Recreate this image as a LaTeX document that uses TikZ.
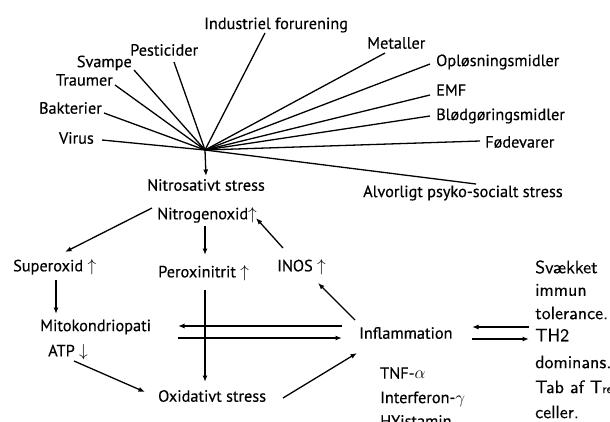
\documentclass[tikz,border=0pt]{standalone}
\usepackage{fontspec}
\setmainfont{PT Sans}[FakeBold=0.4]
\newfontfamily\rfont{lmsans10-regular.otf}[FakeBold=0.3]
\usetikzlibrary{arrows.meta}
\begin{document}
\begin{tikzpicture}[x=1pt,y=-1pt,
  lbl/.style={inner sep=0pt,font=\fontsize{16.3}{18}\selectfont},
  rlbl/.style={inner sep=0pt,anchor=west,font=\rfont\fontsize{18}{20}\selectfont},
  fan/.style={line width=1.3pt},
  arr/.style={line width=1.3pt,-{Latex[length=6.5pt,width=5pt]}}]
\useasboundingbox (0,0) rectangle (610,421);
\clip (0,0) rectangle (610,421);
\coordinate (hub) at (205,150);
% sources
\node[lbl,anchor=east] (virus) at (94,138) {Virus};
\node[lbl,anchor=east] (bakt) at (102,108) {Bakterier};
\node[lbl,anchor=east] (traum) at (113,80) {Traumer};
\node[lbl,anchor=east] (svamp) at (132,63) {Svampe};
\node[lbl,anchor=west] (pest) at (130,50) {Pesticider};
\node[lbl,anchor=west] (indu) at (204,25) {Industriel forurening};
\node[lbl,anchor=west] (metal) at (367,43) {Metaller};
\node[lbl,anchor=west] (oplos) at (436,62) {Opløsningsmidler};
\node[lbl,anchor=west] (emf) at (436,90) {EMF};
\node[lbl,anchor=west] (blod) at (436,116) {Blødgøringsmidler};
\node[lbl,anchor=west] (fode) at (485,142) {Fødevarer};
\node[lbl,anchor=west] (psyk) at (363,193) {Alvorligt psyko-socialt stress};
\coordinate (cvirus) at (102,140);
\coordinate (cbakt) at (104,113);
\coordinate (ctraum) at (115,85);
\coordinate (csvamp) at (134,70);
\coordinate (cpest) at (174,62);
\coordinate (cindu) at (265,33);
\coordinate (cmetal) at (385,53);
\coordinate (coplos) at (430,64);
\coordinate (cemf) at (430,95);
\coordinate (cblod) at (430,116);
\coordinate (cfode) at (480,141);
\coordinate (cpsyk) at (476,184);
\foreach \c in {cvirus,cbakt,ctraum,csvamp,cpest,cindu,cmetal,coplos,cemf,cblod,cfode,cpsyk}
  \draw[fan] (\c) -- (hub);
% lower part
\node[lbl] (nstress) at (206,185) {Nitrosativt stress};
\node[lbl,anchor=west] (nox) at (157,215) {Nitrogenoxid$\uparrow$};
\node[lbl,anchor=west] (supox) at (13,267) {Superoxid $\uparrow$};
\node[lbl,anchor=west] (perox) at (158,273) {Peroxinitrit $\uparrow$};
\node[lbl,anchor=west] (inos) at (277,267) {INOS $\uparrow$};
\node[lbl,anchor=west] (mito) at (40,327) {Mitokondriopati};
\node[lbl,anchor=west] (atp) at (48,352) {ATP $\downarrow$};
\node[lbl,anchor=west] (oxid) at (158,396) {Oxidativt stress};
\node[lbl,anchor=west] (infl) at (359,333) {Inflammation};
\node[lbl,anchor=west] (tnf) at (380,373) {TNF-$\alpha$};
\node[lbl,anchor=west] (ifn) at (380,399) {Interferon-$\gamma$};
\node[lbl,anchor=west] (hist) at (380,421) {HYistamin};
% right block
\node[rlbl] (r1) at (535,267) {Svækket};
\node[rlbl] (r2) at (535,290) {immun};
\node[rlbl] (r3) at (535,313) {tolerance.};
\node[rlbl] (r4) at (535,335) {TH2};
\node[rlbl] (r5) at (535,362) {dominans.};
\node[rlbl] (r6) at (535,388) {Tab af T{\fontsize{12.5}{14}\selectfont reg}};
\node[rlbl] (r7) at (535,412) {celler.};
% arrows
\draw[arr] (hub) -- (206,176);
\coordinate (a1) at (152,208); \coordinate (a2) at (65,252);
\draw[arr] (a1) -- (a2);
\coordinate (b1) at (56,280); \coordinate (b2) at (56,314);
\draw[arr] (b1) -- (b2);
\coordinate (c1) at (74,361); \coordinate (c2) at (145,392);
\draw[arr] (c1) -- (c2);
\coordinate (d1) at (205,226); \coordinate (d2) at (205,255);
\draw[arr] (d1) -- (d2);
\coordinate (e1) at (205,290); \coordinate (e2) at (205,382);
\draw[arr] (e1) -- (e2);
\coordinate (f1) at (283,248); \coordinate (f2) at (256,218);
\draw[arr] (f1) -- (f2);
\coordinate (g1) at (355,320); \coordinate (g2) at (318,283);
\draw[arr] (g1) -- (g2);
\coordinate (h1) at (342,326); \coordinate (h2) at (178,326);
\draw[arr] (h1) -- (h2);
\coordinate (i1) at (178,338); \coordinate (i2) at (342,338);
\draw[arr] (i1) -- (i2);
\coordinate (j1) at (283,398); \coordinate (j2) at (357,353);
\draw[arr] (j1) -- (j2);
\coordinate (k1) at (529,327); \coordinate (k2) at (472,327);
\draw[arr] (k1) -- (k2);
\coordinate (l1) at (472,339); \coordinate (l2) at (529,339);
\draw[arr] (l1) -- (l2);
\end{tikzpicture}
\end{document}
